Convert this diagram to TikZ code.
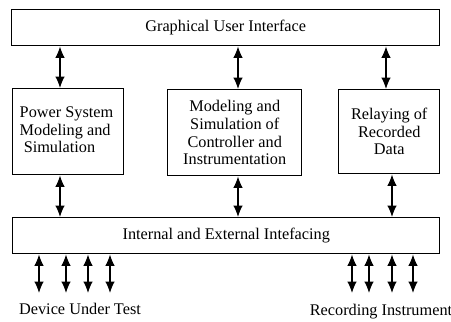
\documentclass[tikz,border=0pt]{standalone}
\usepackage{fontspec}
\setmainfont{Liberation Serif}
\usetikzlibrary{arrows.meta}
\tikzset{
	blk/.style={draw, line width=1.1pt, inner sep=0pt, anchor=north west},
	dbl/.style={line width=0.8pt, {Latex[length=8.5pt,width=7pt]}-{Latex[length=8.5pt,width=7pt]}},
}
\begin{document}
\begin{tikzpicture}[x=0.75pt, y=-0.75pt, font=\fontsize{12.2}{13.2}\selectfont]
	\useasboundingbox (0,0) rectangle (451,322);
	% boxes
	\node[blk, minimum width=428*0.75pt, minimum height=36*0.75pt] (gui) at (11,9) {Graphical User Interface};
	\node[blk, minimum width=111*0.75pt, minimum height=86*0.75pt] (ps) at (12,88) {};
	\node[align=left, anchor=west] (pst) at (15,130) {Power System\\Modeling and\\\ Simulation};
	\node[blk, minimum width=134*0.75pt, minimum height=86*0.75pt, align=center] (ctl) at (167,89) {Modeling and\\Simulation of\\Controller and\\Instrumentation};
	\node[blk, minimum width=101*0.75pt, minimum height=84*0.75pt, align=center] (rel) at (338,89) {Relaying of\\Recorded\\Data};
	\node[blk, minimum width=427*0.75pt, minimum height=36*0.75pt] (iface) at (12,217) {Internal and External Intefacing};
	% arrows up and down
	\coordinate (a1) at (60,0);
	\coordinate (a2) at (238,0);
	\coordinate (a3) at (386,0);
	\coordinate (a4) at (392,0);
	\draw[dbl] (gui.south -| a1) -- (ps.north -| a1);
	\draw[dbl] (gui.south -| a2) -- (ctl.north -| a2);
	\draw[dbl] (gui.south -| a3) -- (rel.north -| a3);
	\draw[dbl] (ps.south -| a1) -- (iface.north -| a1);
	\draw[dbl] (ctl.south -| a2) -- (iface.north -| a2);
	\draw[dbl] (rel.south -| a4) -- (iface.north -| a4);
	% outside links
	\foreach \x [count=\i] in {39,66,88,110,352,369,392,413} {
		\coordinate (b\i) at (\x,293);
		\draw[dbl] (iface.south -| b\i) -- (b\i);
	}
	\node (dut) at (80,309) {Device Under Test};
	\node (rec) at (381,312) {Recording Instrument};
\end{tikzpicture}
\end{document}
